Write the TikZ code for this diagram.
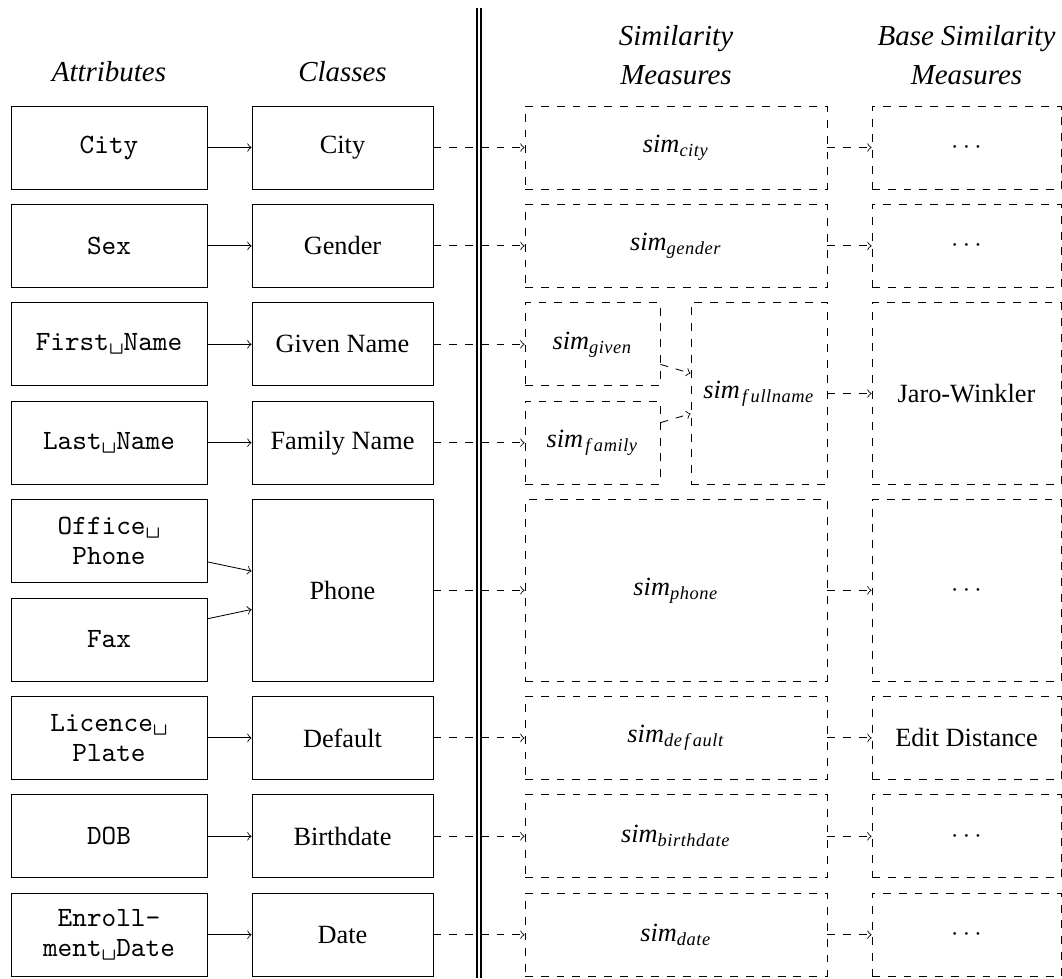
\documentclass[tikz,border=0pt]{standalone}
\usepackage{fontspec}
\setmainfont{Liberation Serif}
\newlength\pxu
\setlength\pxu{0.38pt}
\newcommand{\simof}[1]{\textit{sim}\textsubscript{\itshape\addfontfeature{LetterSpace=3}#1}}
\newcommand{\fgap}{\kern0.9pt f\kern1.3pt}
\newcommand{\vsp}{\textvisiblespace}
\begin{document}
\begin{tikzpicture}[x=0.38pt, y=-0.38pt, line width=0.32pt,
  box/.style 2 args={inner sep=0pt, align=center,
    minimum width={#1*\pxu}, minimum height={#2*\pxu}},
  attr/.style={draw, box={196}{83},
    font=\ttfamily\fontsize{10.6}{11.6}\selectfont},
  cls/.style={draw, box={181}{#1}},
  cls/.default=83,
  meas/.style 2 args={draw, dashed, box={#1}{#2}},
  head/.style={font=\itshape\fontsize{11}{15}\selectfont, align=center},
  link/.style={->},
  dlink/.style={->, dashed}]

\useasboundingbox (0,0) rectangle (1062,978);

% column headings
\node[head] (hA) at (109,72) {Attributes};
\node[head] (hC) at (342.5,72) {Classes};
\node[head] (hS) at (676,55) {Similarity\\Measures};
\node[head] (hB) at (966.5,55) {Base Similarity\\Measures};

% separator between schema side and measure side
\draw[double, line width=0.8pt, double distance=0.6pt] (479,8) -- (479,978);

% attributes
\node[attr] (a1) at (109,147.5) {City};
\node[attr] (a2) at (109,245.9) {Sex};
\node[attr] (a3) at (109,344.3) {First\vsp Name};
\node[attr] (a4) at (109,442.7) {Last\vsp Name};
\node[attr] (a5) at (109,541.1) {Office\vsp\\Phone};
\node[attr] (a6) at (109,639.5) {Fax};
\node[attr] (a7) at (109,737.9) {Licence\vsp\\Plate};
\node[attr] (a8) at (109,836.3) {DOB};
\node[attr] (a9) at (109,934.7) {Enroll-\\ment\vsp Date};

% classes
\node[cls] (c1) at (342.5,147.5) {City};
\node[cls] (c2) at (342.5,245.9) {Gender};
\node[cls] (c3) at (342.5,344.3) {Given Name};
\node[cls] (c4) at (342.5,442.7) {Family Name};
\node[cls=181.4] (c5) at (342.5,590.3) {Phone};
\node[cls] (c6) at (342.5,737.9) {Default};
\node[cls] (c7) at (342.5,836.3) {Birthdate};
\node[cls] (c8) at (342.5,934.7) {Date};

% similarity measures
\node[meas={302}{83}] (s1) at (676,147.5) {\simof{city}};
\node[meas={302}{83}] (s2) at (676,245.9) {\simof{gender}};
\node[meas={135}{83}] (sg) at (592.5,344.3) {\simof{given}};
\node[meas={135}{83}] (sf) at (592.5,442.7) {\simof{\fgap amily}};
\node[meas={136}{181.4}] (sfn) at (759,393.5) {\simof{\fgap ullname}};
\node[meas={302}{181.4}] (sp) at (676,590.3) {\simof{phone}};
\node[meas={302}{83}] (sd) at (676,737.9) {\simof{de\fgap ault}};
\node[meas={302}{83}] (sb) at (676,836.3) {\simof{birthdate}};
\node[meas={302}{83}] (sdt) at (676,934.7) {\simof{date}};

% base similarity measures
\node[meas={189}{83}] (b1) at (966.5,147.5) {$\cdots$};
\node[meas={189}{83}] (b2) at (966.5,245.9) {$\cdots$};
\node[meas={189}{181.4}] (bjw) at (966.5,393.5) {Jaro-Winkler};
\node[meas={189}{181.4}] (bp) at (966.5,590.3) {$\cdots$};
\node[meas={189}{83}] (bd) at (966.5,737.9) {Edit Distance};
\node[meas={189}{83}] (bb) at (966.5,836.3) {$\cdots$};
\node[meas={189}{83}] (bdt) at (966.5,934.7) {$\cdots$};

% attribute -> class
\draw[link] (a1) -- (c1);
\draw[link] (a2) -- (c2);
\draw[link] (a3) -- (c3);
\draw[link] (a4) -- (c4);
\draw[link] (a5) -- (c5);
\draw[link] (a6) -- (c5);
\draw[link] (a7) -- (c6);
\draw[link] (a8) -- (c7);
\draw[link] (a9) -- (c8);

% class -> similarity measure
\draw[dlink] (c1) -- (s1);
\draw[dlink] (c2) -- (s2);
\draw[dlink] (c3) -- (sg);
\draw[dlink] (c4) -- (sf);
\draw[dlink] (c5) -- (sp);
\draw[dlink] (c6) -- (sd);
\draw[dlink] (c7) -- (sb);
\draw[dlink] (c8) -- (sdt);

% composite name measure
\draw[dlink] (sg) -- (sfn);
\draw[dlink] (sf) -- (sfn);

% similarity measure -> base measure
\draw[dlink] (s1) -- (b1);
\draw[dlink] (s2) -- (b2);
\draw[dlink] (sfn) -- (bjw);
\draw[dlink] (sp) -- (bp);
\draw[dlink] (sd) -- (bd);
\draw[dlink] (sb) -- (bb);
\draw[dlink] (sdt) -- (bdt);
\end{tikzpicture}
\end{document}
